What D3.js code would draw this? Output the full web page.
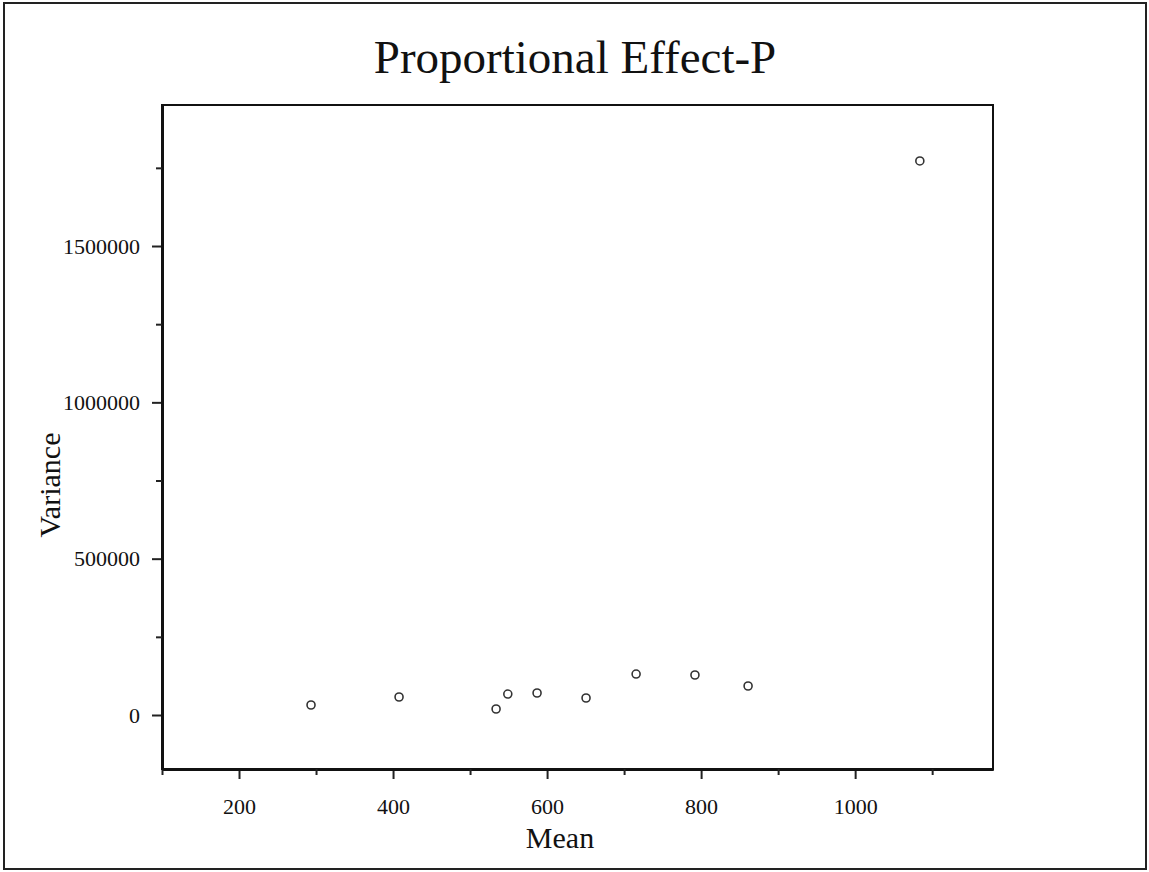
<!DOCTYPE html>
<html>
<head>
<meta charset="utf-8">
<script src="https://cdn.jsdelivr.net/npm/d3@7"></script>
<style>
  body { margin: 0; background: #fff; }
  svg text { font-family: "Liberation Serif", "Times New Roman", serif; fill: #111; }
</style>
</head>
<body>
<div class="chart"></div>
<script>
let svgWidth = 1149;
let svgHeight = 872;

// data
let means = [293.5, 407.8, 533.8, 549, 587, 650.6, 715.6, 792, 861, 1084];
let variances = [32000, 57600, 19200, 67000, 70400, 54400, 131000, 128000, 92800, 1772000];
let xTicks = [200, 400, 600, 800, 1000];
let xMinor = [100, 300, 500, 700, 900, 1100];
let yTicks = [0, 500000, 1000000, 1500000];
let yMinor = [250000, 750000, 1250000, 1750000];

let margin = { top: 105, right: 156, bottom: 103, left: 162 };
let width = svgWidth - margin.left - margin.right;
let height = svgHeight - margin.top - margin.bottom;

let data = means.map((m, i) => ({ mean: m, variance: variances[i] }));

let svg = d3.select(".chart")
    .append("svg")
    .attr("width", svgWidth)
    .attr("height", svgHeight);

// outer frame
svg.append("rect")
    .attr("x", 4).attr("y", 3)
    .attr("width", 1142).attr("height", 866)
    .attr("fill", "none")
    .attr("stroke", "#222")
    .attr("stroke-width", 2);

svg.append("text")
    .attr("x", 575)
    .attr("y", 73)
    .attr("text-anchor", "middle")
    .style("font-size", "47px")
    .text("Proportional Effect-P");

let chartGroup = svg.append("g")
    .attr("transform", `translate(${margin.left}, ${margin.top})`);

let x = d3.scaleLinear().domain([100, 1179]).range([0, width]);
let y = d3.scaleLinear().domain([-172700, 1951000]).range([height, 0]);

// plot box
chartGroup.append("rect")
    .attr("width", width).attr("height", height)
    .attr("fill", "none")
    .attr("stroke", "#111")
    .attr("stroke-width", 2);

let xAxis = chartGroup.append("g")
    .attr("transform", `translate(0, ${height})`)
    .call(d3.axisBottom(x).tickValues(xTicks).tickSize(10).tickPadding(19)
        .tickFormat(d3.format("d")).tickSizeOuter(0));
chartGroup.append("g")
    .attr("transform", `translate(0, ${height})`)
    .call(d3.axisBottom(x).tickValues(xMinor).tickSize(6).tickFormat("").tickSizeOuter(0));

let yAxis = chartGroup.append("g")
    .call(d3.axisLeft(y).tickValues(yTicks).tickSize(10).tickPadding(12)
        .tickFormat(d3.format("d")).tickSizeOuter(0));
chartGroup.append("g")
    .call(d3.axisLeft(y).tickValues(yMinor).tickSize(6).tickFormat("").tickSizeOuter(0));

chartGroup.selectAll(".domain").attr("stroke", "#111").attr("stroke-width", 3);
chartGroup.selectAll(".tick line").attr("stroke", "#222").attr("stroke-width", 2);
chartGroup.selectAll(".tick text")
    .style("font-family", "'Liberation Serif', serif")
    .style("font-size", "22px")
    .attr("fill", "#111");

chartGroup.selectAll("circle")
    .data(data)
    .enter()
    .append("circle")
    .attr("cx", d => x(d.mean))
    .attr("cy", d => y(d.variance))
    .attr("r", 4)
    .attr("fill", "#fff")
    .attr("stroke", "#333")
    .attr("stroke-width", 1.6);

svg.append("text")
    .attr("x", 560)
    .attr("y", 848)
    .attr("text-anchor", "middle")
    .style("font-size", "30px")
    .text("Mean");

svg.append("text")
    .attr("transform", "rotate(-90)")
    .attr("x", -485)
    .attr("y", 60)
    .attr("text-anchor", "middle")
    .style("font-size", "30px")
    .text("Variance");
</script>
</body>
</html>
